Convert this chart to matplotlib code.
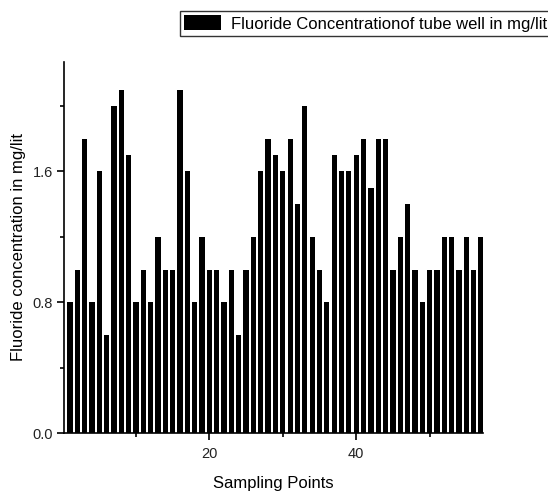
import matplotlib
matplotlib.use("Agg")
import matplotlib.pyplot as plt
from matplotlib.ticker import MultipleLocator

plt.rcParams['font.family'] = ['Liberation Sans', 'DejaVu Sans']

points = list(range(1, 58))
fluoride = [0.8, 1.0, 1.8, 0.8, 1.6, 0.6, 2.0, 2.1, 1.7, 0.8,
            1.0, 0.8, 1.2, 1.0, 1.0, 2.1, 1.6, 0.8, 1.2, 1.0,
            1.0, 0.8, 1.0, 0.6, 1.0, 1.2, 1.6, 1.8, 1.7, 1.6,
            1.8, 1.4, 2.0, 1.2, 1.0, 0.8, 1.7, 1.6, 1.6, 1.7,
            1.8, 1.5, 1.8, 1.8, 1.0, 1.2, 1.4, 1.0, 0.8, 1.0,
            1.0, 1.2, 1.2, 1.0, 1.2, 1.0, 1.2]
legend_label = "Fluoride Concentrationof tube well in mg/lit"

fig = plt.figure(figsize=(5.48, 4.91), dpi=100)
ax = fig.add_axes([0.117, 0.118, 0.764, 0.756])
bars = ax.bar(points, fluoride, width=0.72, color='black', label=legend_label)

ax.set_xlim(0.2, 57.25)
ax.set_ylim(0, 2.27)
ax.xaxis.set_minor_locator(MultipleLocator(10))
ax.yaxis.set_minor_locator(MultipleLocator(0.4))
ax.set_xticks([20, 40])
ax.set_xticklabels(['20', '40'])
ax.set_yticks([0.0, 0.8, 1.6])
ax.set_yticklabels(['0.0', '0.8', '1.6'])

for s in ['top', 'right']:
    ax.spines[s].set_visible(False)
for s in ['left', 'bottom']:
    ax.spines[s].set_linewidth(1.2)
ax.tick_params(axis='both', which='major', direction='out', length=5, width=1.2,
               labelsize=10.5, colors='black', labelcolor='#222222', pad=3)
ax.tick_params(axis='x', which='major', pad=5)
ax.tick_params(axis='both', which='minor', direction='out', length=3, width=1.2)

ax.set_xlabel('Sampling Points', fontsize=12, labelpad=11)
ax.set_ylabel('Fluoride concentration in mg/lit', fontsize=12, labelpad=5)

leg = fig.legend(handles=[bars], labels=[legend_label], loc='upper right',
                 bbox_to_anchor=(1.006, 0.977), fontsize=12, frameon=True,
                 fancybox=False, edgecolor='black', handlelength=2.2,
                 handleheight=1.0, borderpad=0.25, handletextpad=0.6,
                 borderaxespad=0.0)
leg.get_frame().set_linewidth(1.0)

fig.savefig('out.png', dpi=100)
